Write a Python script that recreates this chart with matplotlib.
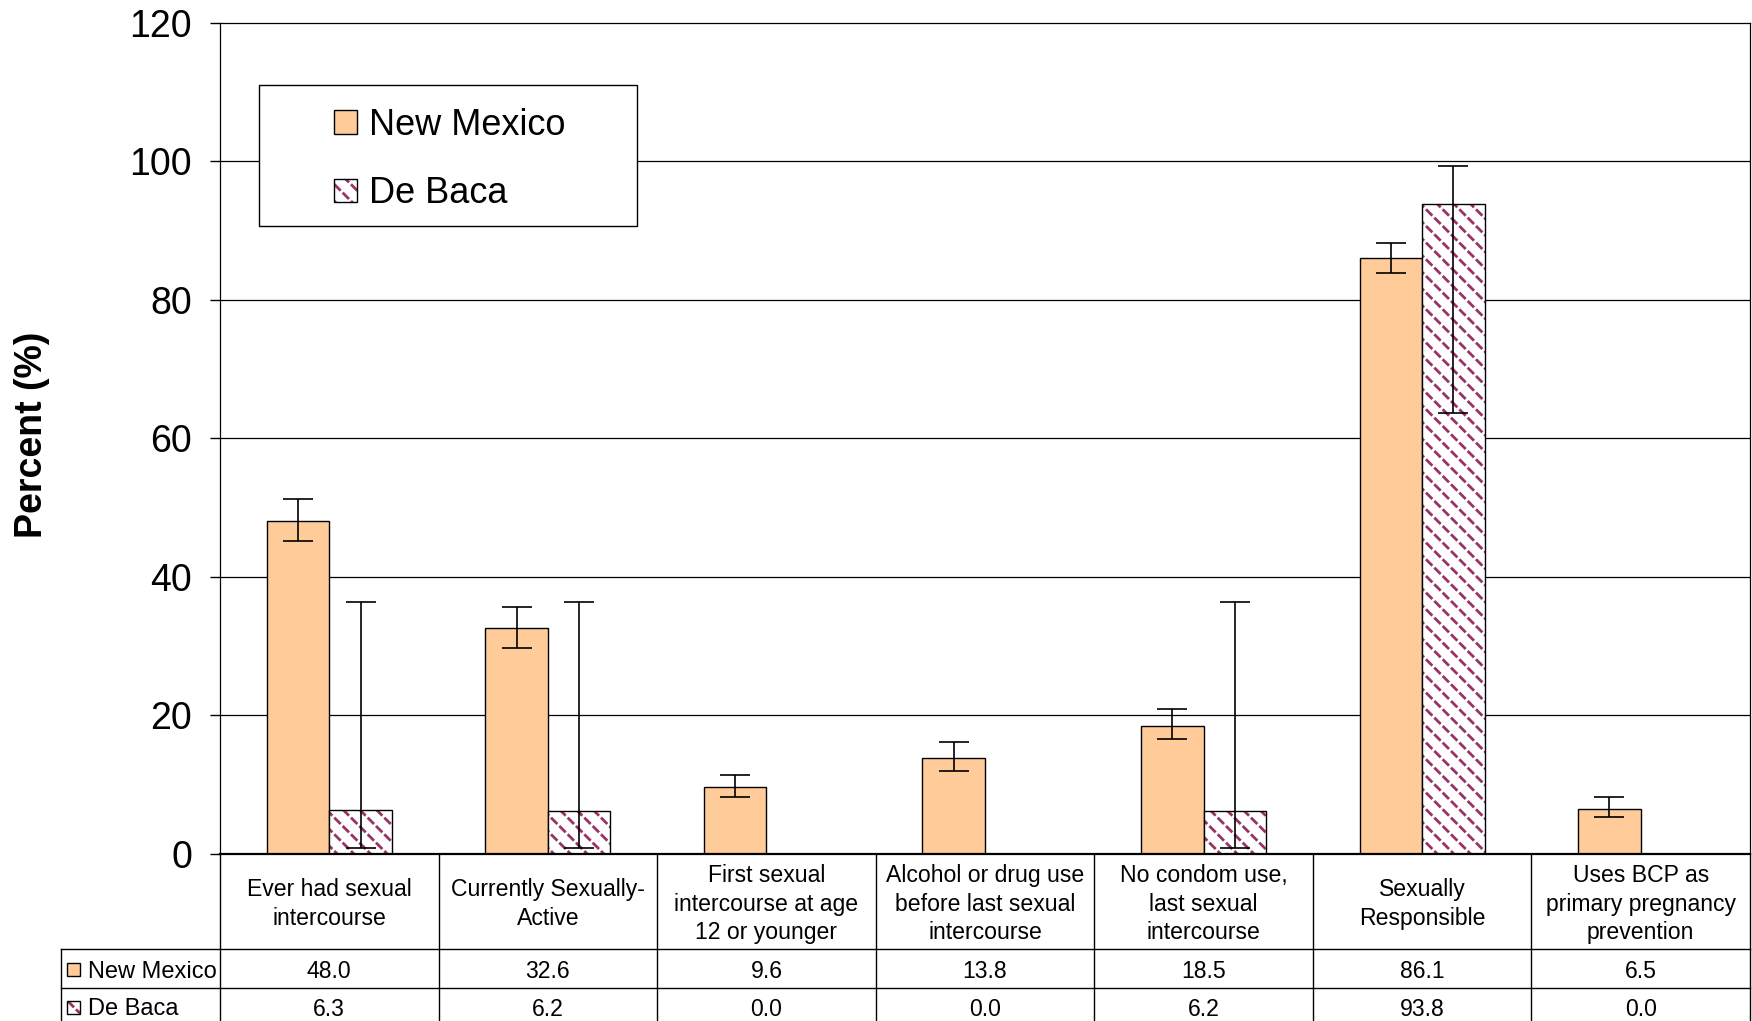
import matplotlib
matplotlib.use("Agg")
from matplotlib import pyplot as plt
from matplotlib.patches import Patch, Rectangle
import numpy as np

plt.rcParams['font.family'] = ['Liberation Sans', 'DejaVu Sans']
plt.rcParams['hatch.linewidth'] = 2.0

categories = [
    "Ever had sexual\nintercourse",
    "Currently Sexually-\nActive",
    "First sexual\nintercourse at age\n12 or younger",
    "Alcohol or drug use\nbefore last sexual\nintercourse",
    "No condom use,\nlast sexual\nintercourse",
    "Sexually\nResponsible",
    "Uses BCP as\nprimary pregnancy\nprevention",
]
series_names = ["New Mexico", "De Baca"]

nm_values = [48.0, 32.6, 9.6, 13.8, 18.5, 86.1, 6.5]
nm_lower = [45.2, 29.7, 8.3, 12.0, 16.6, 83.9, 5.3]
nm_upper = [51.2, 35.7, 11.4, 16.1, 21.0, 88.2, 8.2]

db_values = [6.3, 6.2, 0.0, 0.0, 6.2, 93.8, 0.0]
db_lower = [0.9, 0.9, np.nan, np.nan, 0.9, 63.7, np.nan]
db_upper = [36.4, 36.4, np.nan, np.nan, 36.4, 99.3, np.nan]

yticks = [0, 20, 40, 60, 80, 100, 120]

nm_color = '#FFCC99'
db_hatch_color = '#993366'

fig = plt.figure(figsize=(17.52, 10.21), dpi=100)
ax = fig.add_axes([220 / 1752, 167 / 1021, 1530 / 1752, 831.3 / 1021])

x = np.arange(len(categories))
w = 0.286

nm = np.array(nm_values)
db = np.array(db_values)
nm_err = [nm - np.array(nm_lower), np.array(nm_upper) - nm]
db_err = [db - np.array(db_lower), np.array(db_upper) - db]

ax.bar(x - w / 2, nm, w, color=nm_color, edgecolor='black', linewidth=1.0, zorder=2)
# dashed diagonal pattern: maroon "\" lines cut by white "/" lines
ax.bar(x + w / 2, db, w, color='white', edgecolor=db_hatch_color, linewidth=0,
       hatch='\\\\', zorder=2)
ax.bar(x + w / 2, db, w, color='none', edgecolor='white', linewidth=0,
       hatch='//', zorder=2.05)
ax.bar(x + w / 2, db, w, color='none', edgecolor='black', linewidth=1.0, zorder=2.1)

ax.errorbar(x - w / 2, nm, yerr=nm_err, fmt='none', ecolor='black', elinewidth=1.2,
            capsize=11, capthick=1.2, zorder=3)
ax.errorbar(x + w / 2, db, yerr=db_err, fmt='none', ecolor='black', elinewidth=1.2,
            capsize=11, capthick=1.2, zorder=3)

ax.set_xlim(-0.5, len(categories) - 0.5)
ax.set_ylim(0, 120)
ax.set_yticks(yticks)
ax.tick_params(axis='y', labelsize=27, length=7, width=1, pad=13, direction='out')
ax.set_xticks([])
for y in yticks[1:-1]:
    ax.axhline(y, color='black', linewidth=0.9, zorder=0.5)
for s in ['left', 'top', 'right']:
    ax.spines[s].set_linewidth(0.9)
ax.spines['bottom'].set_linewidth(1.6)
ax.spines['bottom'].set_zorder(4)

ax.text(-0.1228, 0.504, "Percent (%)", transform=ax.transAxes, rotation=90,
        ha='center', va='center', fontsize=27, fontweight='bold')

# legend box
ax.add_patch(Rectangle((0.0255, 0.7554), 0.247, 0.1696, transform=ax.transAxes,
                       facecolor='white', edgecolor='black', linewidth=1.0, zorder=4))
h_nm = Patch(facecolor=nm_color, edgecolor='black', linewidth=1.0)
h_db = (Patch(facecolor='white', edgecolor=db_hatch_color, linewidth=0, hatch='\\\\'),
        Patch(facecolor='none', edgecolor='white', linewidth=0, hatch='//'),
        Patch(facecolor='none', edgecolor='black', linewidth=1.0))
leg = ax.legend([h_nm, h_db], series_names, loc='upper left',
                bbox_to_anchor=(0.0747, 0.8975), frameon=False, fontsize=26,
                handlelength=0.62, handleheight=0.62, handletextpad=0.33,
                labelspacing=0.93, borderpad=0, borderaxespad=0)
leg.set_zorder(5)

# data table under the chart
ncat = len(categories)
row_top = -0.1143
row_nm = -0.1606
row_db = -0.2009
lab_left = -0.104
tkw = dict(transform=ax.transAxes, clip_on=False, color='black', linewidth=1.0)
ax.plot([lab_left, 1], [row_top, row_top], **tkw)
ax.plot([lab_left, 1], [row_nm, row_nm], **tkw)
ax.plot([lab_left, lab_left], [row_top, row_db], **tkw)
for i in range(ncat + 1):
    ax.plot([i / ncat, i / ncat], [0, row_db], **tkw)

y_nm_txt = (row_top + row_nm) / 2 - 0.004
y_db_txt = (row_nm + row_db) / 2 - 0.006
for i, cat in enumerate(categories):
    cx = (i + 0.5) / ncat
    ax.text(cx, (0 + row_top) / 2 - 0.003, cat, transform=ax.transAxes, ha='center',
            va='center', fontsize=16.6, linespacing=1.33)
    ax.text(cx, y_nm_txt, f"{nm_values[i]:.1f}", transform=ax.transAxes,
            ha='center', va='center', fontsize=16.6)
    ax.text(cx, y_db_txt, f"{db_values[i]:.1f}", transform=ax.transAxes,
            ha='center', va='center', fontsize=16.6)

kx, kw, kh = -0.1, 0.0085, 0.0156
for yc, name, hatched in [(y_nm_txt + 0.002, series_names[0], False),
                          (y_db_txt + 0.002, series_names[1], True)]:
    if hatched:
        ax.add_patch(Rectangle((kx, yc - kh / 2), kw, kh, transform=ax.transAxes,
                               facecolor='white', edgecolor=db_hatch_color, linewidth=0,
                               hatch='\\\\', clip_on=False))
        ax.add_patch(Rectangle((kx, yc - kh / 2), kw, kh, transform=ax.transAxes,
                               facecolor='none', edgecolor='white', linewidth=0,
                               hatch='//', clip_on=False))
        ax.add_patch(Rectangle((kx, yc - kh / 2), kw, kh, transform=ax.transAxes,
                               facecolor='none', edgecolor='black', linewidth=1.0,
                               clip_on=False))
    else:
        ax.add_patch(Rectangle((kx, yc - kh / 2), kw, kh, transform=ax.transAxes,
                               facecolor=nm_color, edgecolor='black', linewidth=1.0,
                               clip_on=False))
    ax.text(-0.0865, yc - 0.002, name, transform=ax.transAxes, ha='left', va='center',
            fontsize=17)

fig.savefig("out.png", dpi=100)
